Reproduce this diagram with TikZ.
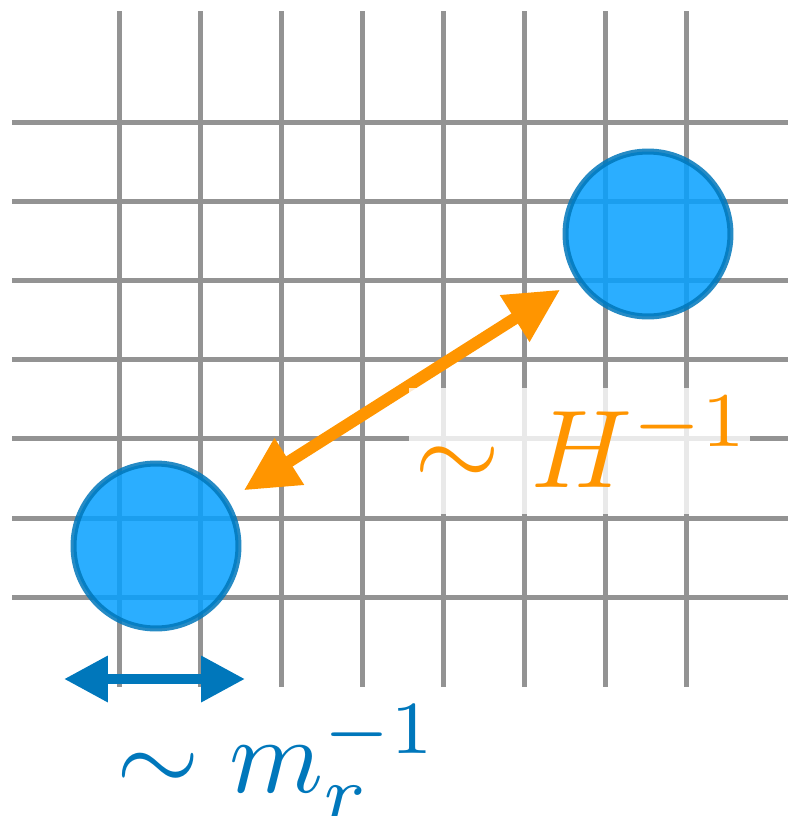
\documentclass[tikz,border=0pt]{standalone}
\usepackage{amsmath,amssymb}
\usetikzlibrary{arrows.meta}

\definecolor{gridgray}{RGB}{147,147,147}
\definecolor{bubblue}{RGB}{6,160,255}
\definecolor{darkblue}{RGB}{0,119,187}
\definecolor{hubble}{RGB}{255,149,0}

\begin{document}
\begin{tikzpicture}[x=0.02cm, y=-0.02cm,
  bub/.style={circle, minimum size=3.3cm, inner sep=0pt, line width=0.12cm,
    fill=bubblue, draw=darkblue, opacity=0.85},
  biglab/.style={inner sep=0pt, scale=#1}, biglab/.default=6.1]
\useasboundingbox (0,0) rectangle (788,816);

% Lattice
\foreach \i in {0,...,7}
  \draw[gridgray, line width=0.1cm] (119+81*\i,11) -- (119+81*\i,687);
\foreach \j in {0,...,6}
  \draw[gridgray, line width=0.1cm] (12,122+79.2*\j) -- (788,122+79.2*\j);

% Bubbles
\node[bub] (low) at (156,546) {};
\node[bub] (high) at (648,234) {};

% Hubble scale
\draw[hubble, line width=0.24cm,
  {Triangle[length=30.7pt,width=29.6pt]}-{Triangle[length=30.7pt,width=29.6pt]},
  shorten <=0.37cm, shorten >=0.37cm] (low) -- (high);
\node[biglab=6.3, text=hubble, fill=white, fill opacity=0.8, text opacity=1,
  anchor=base west, inner xsep=0.0159cm, text width=1.051cm, align=left,
  text height=0.314cm, text depth=0.0857cm] (Hlab) at (407,487) {\mbox{$\sim H^{-1}$}};

% Mass scale
\coordinate (wl) at (64,679);
\coordinate (wr) at (245,679);
\draw[darkblue, line width=0.2cm,
  {Triangle[length=25pt,width=25pt]}-{Triangle[length=25pt,width=25pt]}] (wl) -- (wr);
\node[biglab, text=darkblue, anchor=base west] (mlab) at (114,792) {$\sim m_r^{-1}$};

\end{tikzpicture}
\end{document}
